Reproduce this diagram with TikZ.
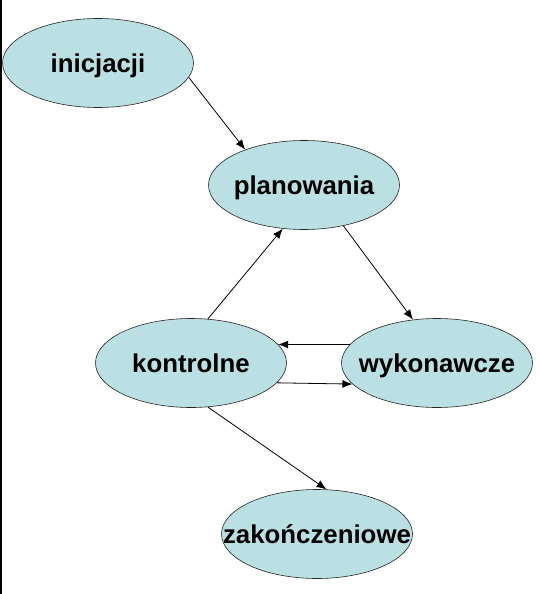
\documentclass[tikz,border=0pt]{standalone}
\usepackage{fontspec}
\setmainfont{Liberation Sans}
\usepackage{xcolor}
\usetikzlibrary{positioning,shapes.geometric,arrows.meta}
\definecolor{phasefill}{RGB}{187,224,227}
\newcommand{\phaselabel}[1]{\makebox[0pt]{#1}}

\begin{document}
\begin{tikzpicture}[
    on grid,
    phase/.style={ellipse, draw=black!85, line width=0.6pt, fill=phasefill, minimum width=191pt, minimum height=89pt, inner sep=0pt, text height=18.5pt, text depth=0pt, font=\fontsize{25.8}{30}\selectfont\bfseries},
    arrow/.style={-{Latex[length=10pt,width=8pt]}, line width=0.8pt}
]
\useasboundingbox (0,0) rectangle (540pt,-594pt);
\draw[line width=1.5pt] (1pt,0) -- (1pt,-594pt);

\node[phase] (init) at (98pt,-63pt) {\phaselabel{inicjacji}};
\node[phase, below right=122pt and 206pt of init] (plan) {\phaselabel{planowania}};
\node[phase, below left=178pt and 113pt of plan] (ctrl) {\phaselabel{kontrolne}};
\node[phase, right=246pt of ctrl] (exec) {\phaselabel{wykonawcze}};
\node[phase, below right=171pt and 126pt of ctrl] (close) {\phaselabel{zakończeniowe}};

\draw[arrow] (init.-9) -- (plan.149);
\draw[arrow] (plan.-46) -- (exec.119);
\draw[arrow] (ctrl.69) -- (plan.-116);
\draw[arrow] (exec.168) -- (ctrl.12);
\draw[arrow] (ctrl.-13) -- (exec.-166);
\draw[arrow] (ctrl.-69) -- (close.78);
\end{tikzpicture}
\end{document}
